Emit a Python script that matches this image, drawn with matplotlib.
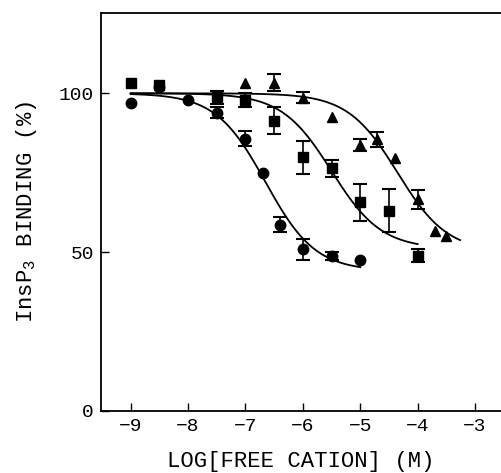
import numpy as np
import matplotlib
matplotlib.use("Agg")
import matplotlib.pyplot as plt

plt.rcParams['font.family'] = ['Liberation Mono', 'DejaVu Sans Mono']
plt.rcParams['mathtext.default'] = 'regular'

# circles
circ_x = [-9.0, -8.5, -8.0, -7.5, -7.0, -6.7, -6.4, -6.0, -5.5, -5.0]
circ_y = [96.8, 102.0, 97.9, 93.9, 85.7, 74.8, 58.6, 50.8, 48.7, 47.4]
circ_e = [0, 0, 0, 1.8, 2.3, 0, 2.3, 3.3, 1.2, 0]

# squares
sq_x = [-9.0, -8.5, -7.5, -7.0, -6.5, -6.0, -5.5, -5.0, -4.5, -4.0]
sq_y = [103.3, 102.6, 98.7, 97.9, 91.4, 79.8, 76.4, 65.7, 63.0, 48.8]
sq_e = [0, 0, 2.1, 2.2, 4.2, 5.3, 2.7, 5.8, 6.7, 2.0]

# triangles
tri_x = [-7.0, -6.5, -6.0, -5.5, -5.0, -4.7, -4.4, -4.0, -3.7, -3.5]
tri_y = [103.3, 103.3, 98.6, 92.4, 83.7, 85.5, 79.5, 66.6, 56.6, 55.0]
tri_e = [0, 2.7, 1.7, 0, 1.8, 2.3, 0, 2.9, 0, 0]

# fitted curves: (top, bottom, logIC50, slope, x start, x end)
circ_fit = (100, 44, -6.65, 1.0, -9.0, -5.0)
sq_fit = (100, 51, -5.5, 1.0, -9.0, -4.0)
tri_fit = (100, 50, -4.35, 1.0, -9.0, -3.26)


def logistic(p):
    top, bot, ic, n, x0, x1 = p
    xx = np.linspace(x0, x1, 200)
    return xx, bot + (top - bot) / (1 + 10 ** ((xx - ic) * n))


fig = plt.figure(figsize=(5.01, 4.73), dpi=100)
ax = fig.add_axes([100.7 / 501, 62.3 / 473, 1 - 100.7 / 501, (410.7 - 13) / 473])

for p in (circ_fit, sq_fit, tri_fit):
    xx, yy = logistic(p)
    ax.plot(xx, yy, color='black', lw=1.3, zorder=2)

for xs, ys, es, m in ((circ_x, circ_y, circ_e, 'o'), (sq_x, sq_y, sq_e, 's'),
                      (tri_x, tri_y, tri_e, '^')):
    ax.plot(xs, ys, m, color='black', ms=7.5, zorder=3)
    xe = [x for x, e in zip(xs, es) if e > 0]
    ye = [y for y, e in zip(ys, es) if e > 0]
    ee = [e for e in es if e > 0]
    ax.errorbar(xe, ye, yerr=ee, fmt='none', ecolor='black', elinewidth=1.2,
                capsize=5, capthick=1.5, zorder=3)

ax.set_xlim(-9.523, -2.547)
ax.set_ylim(0, 125.3)
ax.set_xticks([-9, -8, -7, -6, -5, -4, -3])
ax.set_xticklabels(['\u22129', '\u22128', '\u22127', '\u22126', '\u22125', '\u22124', '\u22123'])
ax.set_yticks([0, 50, 100])
ax.spines['right'].set_visible(False)
for s in ax.spines.values():
    s.set_linewidth(1.3)
ax.tick_params(direction='in', length=6, width=1, labelsize=14, pad=5)
ax.set_xlabel('LOG[FREE CATION] (M)', fontsize=16, labelpad=12)
ax.set_ylabel('InsP$_3$ BINDING (%)', fontsize=16, labelpad=14)

fig.savefig('out.png', dpi=100)
